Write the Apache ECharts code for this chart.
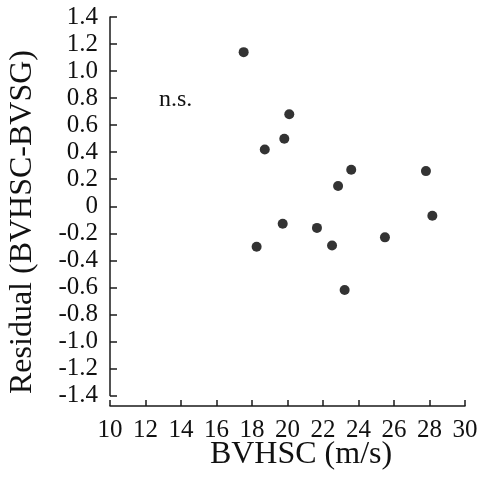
<!DOCTYPE html>
<html>
<head>
<meta charset="utf-8">
<script src="https://cdn.jsdelivr.net/npm/echarts@6/dist/echarts.min.js"></script>
<style>
  html, body { margin: 0; padding: 0; background: #fff; }
  #chart { width: 486px; height: 483px; }
</style>
</head>
<body>
<div id="chart"></div>
<script>
// Measured wind speeds (BVHSC) and residuals (BVHSC - BVSG)
const bvhsc = [17.53, 20.10, 19.82, 18.72, 23.59, 22.85, 27.80, 28.16, 18.26, 19.73, 21.66, 22.51, 23.22, 25.49];
const residual = [1.14, 0.68, 0.50, 0.42, 0.27, 0.15, 0.26, -0.07, -0.30, -0.13, -0.16, -0.29, -0.62, -0.23];

// Axis tick labels
const xTickLabels = ['10', '12', '14', '16', '18', '20', '22', '24', '26', '28', '30'];
const yTickLabels = ['-1.4', '-1.2', '-1.0', '-0.8', '-0.6', '-0.4', '-0.2', '0', '0.2', '0.4', '0.6', '0.8', '1.0', '1.2', '1.4'];

const serif = '"Liberation Serif", "Times New Roman", serif';
const axisColor = '#1a1a1a';

const chart = echarts.init(document.getElementById('chart'), null, { renderer: 'canvas' });

chart.setOption({
  backgroundColor: '#fff',
  animation: false,
  grid: { left: 110, right: 21, top: 17, bottom: 87.5 },
  xAxis: {
    type: 'value',
    min: 10, max: 30, interval: 2,
    offset: 10.5,
    axisLine: { show: true, onZero: false, lineStyle: { color: axisColor, width: 1.5 } },
    axisTick: { show: true, inside: true, length: 6, lineStyle: { color: axisColor, width: 1.5 } },
    splitLine: { show: false },
    axisLabel: {
      margin: 12,
      color: '#111',
      fontFamily: serif,
      fontSize: 25,
      formatter: v => xTickLabels[Math.round((v - 10) / 2)]
    }
  },
  yAxis: {
    type: 'value',
    min: -1.4, max: 1.4, interval: 0.2,
    axisLine: { show: true, onZero: false, lineStyle: { color: axisColor, width: 1.5 } },
    axisTick: { show: true, inside: true, length: 7, lineStyle: { color: axisColor, width: 1.5 } },
    splitLine: { show: false },
    axisLabel: {
      margin: 12,
      color: '#111',
      fontFamily: serif,
      fontSize: 25,
      formatter: v => yTickLabels[Math.round((v + 1.4) / 0.2)]
    }
  },
  series: [{
    type: 'scatter',
    symbol: 'circle',
    symbolSize: 10,
    itemStyle: { color: '#000' },
    data: bvhsc.map((x, i) => [x, residual[i]])
  }],
  graphic: [
    {
      type: 'text',
      left: 159, top: 88,
      style: { text: 'n.s.', font: '24px ' + serif, fill: '#111' }
    },
    {
      type: 'text',
      x: 301, y: 455,
      style: {
        text: 'BVHSC (m/s)', font: '32px ' + serif, fill: '#111',
        textAlign: 'center', textVerticalAlign: 'middle'
      }
    },
    {
      type: 'text',
      x: 23, y: 222,
      rotation: Math.PI / 2,
      style: {
        text: 'Residual (BVHSC-BVSG)', font: '32px ' + serif, fill: '#111',
        textAlign: 'center', textVerticalAlign: 'middle'
      }
    }
  ]
});
</script>
</body>
</html>
